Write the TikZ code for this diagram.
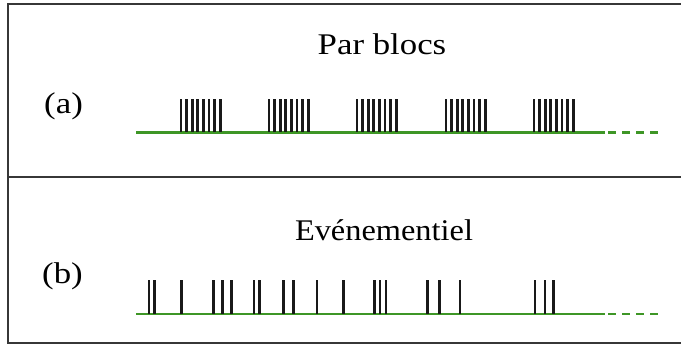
\documentclass[tikz,border=0pt]{standalone}
\usepackage{fontspec}
\setmainfont{Liberation Serif}
\definecolor{lgreen}{RGB}{62,150,38}
\definecolor{frame}{RGB}{55,55,55}
\begin{document}
\begin{tikzpicture}[x=1pt,y=-1pt,
  lbl/.style={anchor=base,inner sep=0pt,font=\fontsize{30}{34}\selectfont,xscale=1.16},
  axis/.style={draw=lgreen,line width=2.7pt},
  axisdash/.style={draw=lgreen,line width=2.7pt,dash pattern=on 8pt off 6pt},
  spike/.style={draw=black!90,line width=2.7pt},
  framel/.style={draw=frame,line width=2.6pt}]
\useasboundingbox (0,0) rectangle (681,346);
% frame
\draw[framel] (684,4) -- (8,4) -- (8,343) -- (684,343);
\draw[framel] (8,177) -- (684,177);
% texts
\node[lbl] (ta) at (382,54) {Par blocs};
\node[lbl,anchor=base west] (la) at (44,113) {(a)};
\node[lbl,xscale=0.93] (tb) at (384,240) {Evénementiel};
\node[lbl,anchor=base west] (lb) at (42,283) {(b)};
% (a) axis
\coordinate (a0) at (136,132.5);
\coordinate (a1) at (605,132.5);
\coordinate (a2) at (658,132.5);
\draw[axis] (a0) -- (a1);
\draw[axisdash] ([xshift=3pt]a1) -- (a2);
\foreach \s in {181,269,357,446,534}{
  \foreach \i in {0,...,7}{
    \draw[spike] (\s+\i*5.6,99) -- (\s+\i*5.6,132);
  }
}
% (b) axis
\coordinate (b0) at (136,314);
\coordinate (b1) at (605,314);
\coordinate (b2) at (658,314);
\draw[axis] (b0) -- (b1);
\draw[axisdash] ([xshift=3pt]b1) -- (b2);
\foreach \x in {149,154.5,181.7,213.3,222.3,231.7,254,259.3,283.3,293.7,317,343.7,374.3,380,386,427.3,439.3,460,535,545,553.7}{
  \draw[spike] (\x,280) -- (\x,313.5);
}
\end{tikzpicture}
\end{document}
